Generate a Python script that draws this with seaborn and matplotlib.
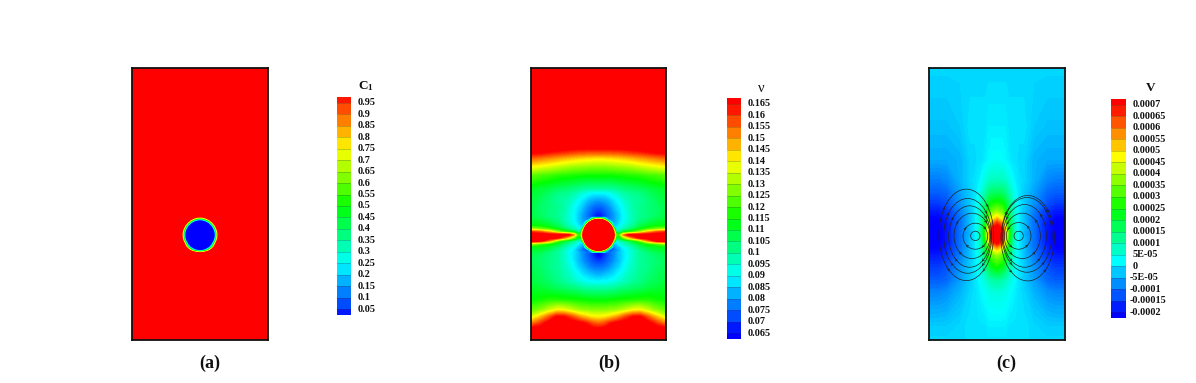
#!/usr/bin/env python
# -*- coding: utf-8 -*-

import numpy as np
import pandas as pd
import seaborn as sns
import matplotlib.pyplot as plt
from matplotlib.colors import LinearSegmentedColormap
from matplotlib.patches import Ellipse

# field tables, right half of each panel (the left is its mirror)
# x = distance from the panel centre, y = distance down, 408 units = panel width
# nodes next to the drop edge run past the colour range so the ring stays round
X_DROP = [0, 9, 18, 27, 36, 45, 54, 63, 204]
Y_A = [24, 462, 471, 480, 489, 498, 507, 516, 525, 534, 543, 552, 561, 570, 579, 588, 840]
Z_A = [
    [1.84, 1.84, 1.84, 1.84, 1.84, 1.84, 1.84, 1.84, 1.84],
    [1.7, 1.77, 1.84, 1.84, 1.84, 1.84, 1.84, 1.84, 1.84],
    [.88, .94, 1.14, 1.47, 1.84, 1.84, 1.84, 1.84, 1.84],
    [.04, .13, .37, .73, 1.21, 1.77, 1.84, 1.84, 1.84],
    [-.8, -.7, -.4, .04, .59, 1.21, 1.84, 1.84, 1.84],
    [-.84, -.84, -.84, -.6, .04, .73, 1.47, 1.84, 1.84],
    [-.84, -.84, -.84, -.84, -.4, .37, 1.14, 1.84, 1.84],
    [-.84, -.84, -.84, -.84, -.7, .13, .94, 1.77, 1.84],
    [-.84, -.84, -.84, -.84, -.8, .04, .88, 1.7, 1.84],
    [-.84, -.84, -.84, -.84, -.7, .13, .94, 1.77, 1.84],
    [-.84, -.84, -.84, -.84, -.4, .37, 1.14, 1.84, 1.84],
    [-.84, -.84, -.84, -.6, .04, .73, 1.47, 1.84, 1.84],
    [-.8, -.7, -.4, -.03, .43, 1.1, 1.84, 1.84, 1.84],
    [-.03, .03, .23, .57, 1.1, 1.7, 1.84, 1.84, 1.84],
    [.97, 1.03, 1.23, 1.57, 1.84, 1.84, 1.84, 1.84, 1.84],
    [1.77, 1.84, 1.84, 1.84, 1.84, 1.84, 1.84, 1.84, 1.84],
    [1.84, 1.84, 1.84, 1.84, 1.84, 1.84, 1.84, 1.84, 1.84],
]

X_B = [0, 9, 18, 27, 36, 45, 54, 63, 75, 90, 105, 125, 150, 175, 204]
Y_B = [25, 200, 265, 280, 295, 320, 345, 385, 400, 420, 440, 462, 471, 480, 489, 498, 507,
       516, 525, 534, 543, 552, 561, 570, 579, 588, 605, 625, 645, 665, 685, 720, 750, 770,
       790, 810, 840]
Z_B = [  # in units of 0.001
    [170, 170, 170, 170, 170, 170, 170, 170, 170, 170, 170, 170, 170, 170, 170],
    [170, 170, 170, 170, 170, 170, 170, 170, 170, 170, 170, 170, 170, 170, 170],
    [166, 166, 166, 166, 166, 166, 166, 166, 167, 167, 168, 169, 170, 170, 170],
    [155, 155, 155, 155, 155, 156, 156, 156, 157, 158, 159, 160, 162, 164, 165],
    [142, 142, 142, 143, 143, 143, 144, 144, 145, 146, 147, 149, 151, 153, 155],
    [128, 128, 128, 128, 129, 129, 129, 130, 130, 131, 132, 134, 136, 138, 140],
    [116, 116, 116, 116, 116, 116, 117, 117, 117, 118, 118, 119, 121, 122, 124],
    [100, 100, 100, 100, 100, 101, 101, 102, 103, 104, 105, 106, 108, 110, 112],
    [89, 89, 89, 90, 91, 93, 94, 96, 98, 100, 101, 102, 105, 108, 110],
    [81, 81, 82, 83, 85, 87, 89, 91, 94, 97, 99, 100, 103, 106, 109],
    [75, 75, 76, 78, 80, 83, 86, 88, 91, 95, 99, 101, 103, 105, 108],
    [68, 69, 72, 75, 77, 80, 83, 86, 90, 94, 98, 101, 103, 105, 108],
    [66, 67, 71, 74, 77, 80, 83, 86, 90, 94, 98, 101, 103, 106, 108],
    [175, 165, 133, 84, 77, 80, 83, 86, 90, 94, 98, 102, 105, 108, 110],
    [170, 170, 235, 175, 103, 81, 84, 87, 91, 95, 99, 104, 108, 111, 112],
    [170, 170, 170, 260, 175, 84, 86, 89, 93, 97, 101, 107, 111, 114, 115],
    [170, 170, 170, 170, 235, 133, 89, 93, 97, 101, 106, 112, 120, 125, 130],
    [170, 170, 170, 170, 270, 165, 98, 100, 110, 115, 120, 130, 145, 155, 160],
    [170, 170, 170, 170, 285, 175, 118, 120, 150, 165, 170, 170, 170, 170, 170],
    [170, 170, 170, 170, 270, 165, 105, 112, 125, 140, 152, 165, 170, 170, 170],
    [170, 170, 170, 170, 235, 133, 90, 95, 100, 106, 112, 125, 150, 165, 170],
    [170, 170, 170, 260, 175, 84, 85, 90, 95, 99, 103, 110, 116, 122, 130],
    [170, 170, 235, 175, 103, 75, 82, 85, 90, 94, 99, 105, 110, 112, 113],
    [175, 165, 133, 84, 70, 75, 78, 82, 88, 92, 96, 101, 106, 110, 110],
    [65, 66, 70, 73, 76, 78, 81, 84, 87, 91, 96, 100, 103, 106, 108],
    [65, 66, 70, 73, 76, 78, 81, 84, 87, 91, 96, 100, 102, 105, 107],
    [71, 72, 73, 75, 77, 79, 82, 84, 88, 92, 96, 100, 102, 104, 106],
    [77, 77, 78, 79, 81, 83, 85, 87, 90, 94, 97, 100, 102, 105, 107],
    [83, 83, 84, 85, 86, 87, 89, 91, 93, 96, 98, 101, 103, 106, 108],
    [89, 90, 90, 90, 91, 92, 93, 94, 96, 98, 100, 102, 105, 107, 109],
    [99, 99, 99, 99, 100, 100, 101, 102, 103, 104, 105, 106, 108, 110, 111],
    [114, 114, 114, 114, 115, 115, 115, 116, 116, 117, 117, 118, 118, 116, 115],
    [128, 128, 128, 128, 129, 129, 130, 131, 133, 136, 139, 140, 134, 128, 124],
    [140, 140, 141, 142, 144, 146, 148, 151, 155, 160, 164, 165, 155, 145, 135],
    [155, 156, 157, 160, 163, 165, 167, 168, 170, 170, 170, 170, 168, 160, 152],
    [168, 168, 169, 170, 170, 170, 170, 170, 170, 170, 170, 170, 170, 170, 170],
    [170, 170, 170, 170, 170, 170, 170, 170, 170, 167, 166, 167, 170, 170, 170],
]

X_C = [0, 15, 25, 35, 45, 55, 65, 80, 110, 150, 175, 204]
Y_C = [25, 200, 300, 360, 400, 430, 455, 475, 490, 505, 520, 535, 550, 565, 585, 620, 660,
       700, 800, 840]
Z_C = [  # in units of 1e-5
    [-1, -1, -1, -1, -1, -1, -1, -1, -1, -1, -1, -1],
    [1, 1, 1, 0, 0, 0, 0, 0, -2, -3, -3, -3],
    [3, 3, 2, 1, 0, 0, -1, -1, -4, -5, -5, -5],
    [8, 8, 7, 5, 3, 1, 0, -1, -4, -8, -9, -9],
    [17, 16, 14, 10, 6, 3, 0, -2, -6, -11, -12, -12],
    [27, 25, 21, 15, 9, 4, 1, -2, -7, -13, -15, -15],
    [38, 34, 27, 17, 10, 5, 1, -3, -9, -16, -18, -18],
    [52, 46, 32, 20, 11, 5, 1, -3, -10, -17, -20, -20],
    [66, 58, 38, 22, 12, 6, 1, -3, -10, -18, -20, -20],
    [74, 68, 46, 27, 14, 6, 1, -3, -10, -18, -21, -20],
    [76, 71, 52, 30, 15, 7, 1, -4, -10, -18, -21, -20],
    [75, 69, 48, 28, 14, 6, 1, -3, -10, -18, -21, -20],
    [70, 61, 42, 24, 12, 5, 1, -3, -10, -18, -20, -20],
    [54, 46, 32, 20, 11, 5, 1, -3, -10, -17, -20, -20],
    [38, 33, 25, 16, 9, 4, 1, -3, -9, -16, -18, -18],
    [26, 23, 18, 12, 7, 3, 1, -2, -7, -13, -15, -15],
    [11, 10, 8, 6, 4, 2, 0, -2, -6, -11, -12, -12],
    [5, 5, 4, 3, 2, 1, 0, -1, -4, -7, -8, -8],
    [1, 1, 1, 0, 0, 0, 0, 0, -1, -2, -2, -2],
    [0, 0, 0, 0, 0, 0, 0, 0, -1, -1, -1, -1],
]

# streamlines of panel (c), as closed loops
LOOP_X = [-65, -65, -75, -82, -88, -92, 65, 65, 76, 83, 90, 92]
LOOP_Y = [528, 529, 528, 530, 528, 525, 528, 528, 528, 528, 525, 535]
LOOP_RX = [14, 37, 54, 63, 72, 82, 14, 37, 54, 65, 75, 80]
LOOP_RY = [14, 39, 68, 92, 112, 137, 14, 40, 68, 94, 112, 128]

LABELS_A = ['0.95', '0.9', '0.85', '0.8', '0.75', '0.7', '0.65', '0.6', '0.55', '0.5',
            '0.45', '0.4', '0.35', '0.3', '0.25', '0.2', '0.15', '0.1', '0.05']
LABELS_B = ['0.165', '0.16', '0.155', '0.15', '0.145', '0.14', '0.135', '0.13', '0.125',
            '0.12', '0.115', '0.11', '0.105', '0.1', '0.095', '0.09', '0.085', '0.08',
            '0.075', '0.07', '0.065']
LABELS_C = ['0.0007', '0.00065', '0.0006', '0.00055', '0.0005', '0.00045', '0.0004',
            '0.00035', '0.0003', '0.00025', '0.0002', '0.00015', '0.0001', '5E-05', '0',
            '-5E-05', '-0.0001', '-0.00015', '-0.0002']

W, H = 1196, 383
sns.set_theme(style='white')
plt.rcParams['font.family'] = ['Liberation Serif', 'DejaVu Sans']
plt.rcParams['mathtext.fontset'] = 'custom'
plt.rcParams['mathtext.rm'] = 'Liberation Serif'
plt.rcParams['mathtext.bf'] = 'Liberation Serif:bold'

rainbow = LinearSegmentedColormap.from_list(
    'tecplot', ['#0000ff', '#00ffff', '#00ff00', '#ffff00', '#ff0000'], N=512)


def px_axes(fig, left, top, right, bottom):
    return fig.add_axes([left / W, 1 - bottom / H, (right - left) / W, (bottom - top) / H])


def draw_field(fig, box, xs, ys, table, vmin, vmax):
    ax = px_axes(fig, *box)
    half = np.array(table, dtype=float)
    xs = np.array(xs, dtype=float)
    x_full = np.concatenate([-xs[:0:-1], xs])
    z_full = np.hstack([half[:, :0:-1], half])
    levels = np.linspace(vmin, vmax, 121)
    ax.contourf(x_full, ys, z_full, levels=levels, cmap=rainbow, extend='both')
    ax.set_xlim(-204, 204)
    ax.set_ylim(max(ys), min(ys))
    ax.set_xticks([])
    ax.set_yticks([])
    for side in ax.spines.values():
        side.set_visible(True)
        side.set_color('#111111')
        side.set_linewidth(1.3)
    return ax


def draw_scale(fig, box, labels, vmin, vmax, label_gap=5.0):
    # half a band at each end, so every level label sits on a band boundary
    ax = px_axes(fig, *box)
    levels = np.array([float(t) for t in labels])
    step = levels[0] - levels[1]
    mids = np.concatenate([[levels[0] + step / 2], levels[:-1] - step / 2, [levels[-1] - step / 2]])
    rows = [mids[0]]
    for m in mids[1:-1]:
        rows += [m, m]
    rows.append(mids[-1])
    band = pd.DataFrame({'band': rows})
    sns.heatmap(band, ax=ax, cmap=rainbow, vmin=vmin, vmax=vmax, cbar=False,
                xticklabels=False, yticklabels=False)
    edges = np.arange(1, len(rows), 2)
    ax.hlines(edges, 0, 1, color='#333333', linewidth=0.5, alpha=0.35)
    for y, text in zip(edges, labels):
        gap = label_gap - 2.6 if text.startswith('-') else label_gap
        ax.annotate(text, xy=(1, y), xycoords=ax.get_yaxis_transform(),
                    xytext=(gap, 0), textcoords='offset points',
                    va='center', ha='left', fontsize=7.3, fontweight='bold', color='#111111')
    return ax


fig = plt.figure(figsize=(W / 100, H / 100), dpi=100)

draw_field(fig, (132, 68, 268, 340), X_DROP, Y_A, Z_A, 0.0, 1.0)
draw_field(fig, (531, 68, 666, 340), X_B, Y_B, Z_B, 65, 165)
ax_c = draw_field(fig, (929, 68, 1065, 340), X_C, Y_C, Z_C, -20, 70)

for cx, cy, rx, ry in zip(LOOP_X, LOOP_Y, LOOP_RX, LOOP_RY):
    ax_c.add_patch(Ellipse((cx, cy), 2 * rx, 2 * ry, fill=False, edgecolor='#222222', linewidth=0.5))
    # small flow arrows round the larger loops
    if ry > 20:
        sense = 1 if cx < 0 else -1
        for ang in (50, 130, 215, 320):
            t = np.radians(ang)
            px, py = cx + rx * np.cos(t), cy + ry * np.sin(t)
            dx, dy = -rx * np.sin(t) * sense, ry * np.cos(t) * sense
            norm = np.hypot(dx, dy)
            ax_c.annotate('', xy=(px + 6 * dx / norm, py + 6 * dy / norm), xytext=(px, py),
                          arrowprops=dict(arrowstyle='->', color='#222222', lw=0.4,
                                          mutation_scale=4, shrinkA=0, shrinkB=0))

draw_scale(fig, (337, 97, 351, 315), LABELS_A, 0.0, 1.0)
draw_scale(fig, (727, 98, 741, 339), LABELS_B, 0.065, 0.165)
draw_scale(fig, (1111, 99, 1126, 318), LABELS_C, -0.0002, 0.0007)

fig.text(366 / W, 1 - 86 / H, r'$\mathbf{C_1}$', fontsize=9.5, ha='center', va='center', color='#111111')
fig.text(761 / W, 1 - 88 / H, 'ν', fontsize=10.5, ha='center', va='center', color='#111111')
fig.text(1151 / W, 1 - 88 / H, 'V', fontsize=9.5, fontweight='bold', ha='center', va='center', color='#111111')

for x, tag in zip((210, 609, 1006), ('(a)', '(b)', '(c)')):
    fig.text(x / W, 1 - 363 / H, tag, fontsize=13, fontweight='bold', ha='center', va='center', color='#111111')

fig.savefig('out.png', dpi=100)
